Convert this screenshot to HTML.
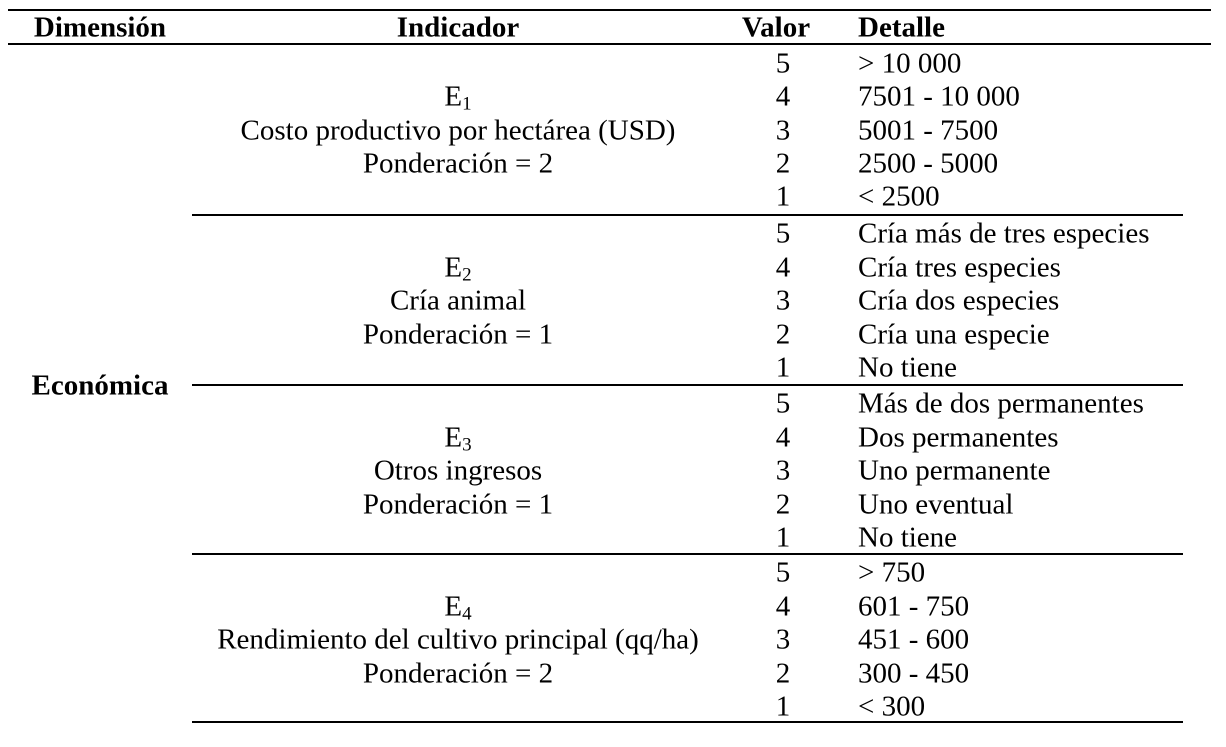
<!DOCTYPE html>
<html><head><meta charset="utf-8"><style>
body{margin:0;width:1226px;height:747px;background:#fff;position:relative;overflow:hidden;font-family:"Liberation Serif",serif;color:#000;font-size:29px}
.t{position:absolute;white-space:nowrap;line-height:1;transform:translateY(-50%)}
.c{transform:translate(-50%,-50%)}
.r{position:absolute;height:2px;background:#000}
b{font-weight:bold}
sub{font-size:19px;vertical-align:-4px;line-height:0}
</style></head><body>
<div class="r" style="left:8px;top:9px;width:1203px"></div>
<div class="r" style="left:8px;top:43px;width:1203px"></div>
<div class="t c" style="left:100px;top:28px"><b>Dimensión</b></div>
<div class="t c" style="left:458px;top:28px"><b>Indicador</b></div>
<div class="t c" style="left:776px;top:28px"><b>Valor</b></div>
<div class="t" style="left:858px;top:28px"><b>Detalle</b></div>
<div class="t c" style="left:100px;top:386px"><b>Económica</b></div>
<div id="body"></div>
<script>
const indicators=[
 ["E","1","Costo productivo por hectárea (USD)","Ponderación = 2",["&gt; 10 000","7501 - 10 000","5001 - 7500","2500 - 5000","&lt; 2500"]],
 ["E","2","Cría animal","Ponderación = 1",["Cría más de tres especies","Cría tres especies","Cría dos especies","Cría una especie","No tiene"]],
 ["E","3","Otros ingresos","Ponderación = 1",["Más de dos permanentes","Dos permanentes","Uno permanente","Uno eventual","No tiene"]],
 ["E","4","Rendimiento del cultivo principal (qq/ha)","Ponderación = 2",["&gt; 750","601 - 750","451 - 600","300 - 450","&lt; 300"]]
];
const b=document.getElementById('body');
const starts=[64,234,404,573];
const rowH=[33.3,33.5,33.5,33.5];
indicators.forEach((ind,i)=>{
 const y0=starts[i],h=rowH[i];
 const lines=[ind[0]+'<sub>'+ind[1]+'</sub>',ind[2],ind[3]];
 lines.forEach((txt,j)=>{
  const d=document.createElement('div');d.className='t c';
  
  
  d.style.left='458px';d.style.top=(y0+h*(j+1))+'px';d.innerHTML=txt;b.appendChild(d);
 });
 ind[4].forEach((det,k)=>{
  const y=y0+h*k;
  const v=document.createElement('div');v.className='t c';
  
  
  v.style.left='783px';v.style.top=y+'px';v.textContent=5-k;b.appendChild(v);
  const d=document.createElement('div');d.className='t';
  
  
  d.style.left='858px';d.style.top=y+'px';d.innerHTML=det;b.appendChild(d);
 });
});
[214,384,553,721].forEach(y=>{
 const r=document.createElement('div');r.className='r';
 
 
 r.style.left='192px';r.style.top=y+'px';r.style.width='991px';r.style.height='1.5px';b.appendChild(r);
});
</script>
</body></html>
